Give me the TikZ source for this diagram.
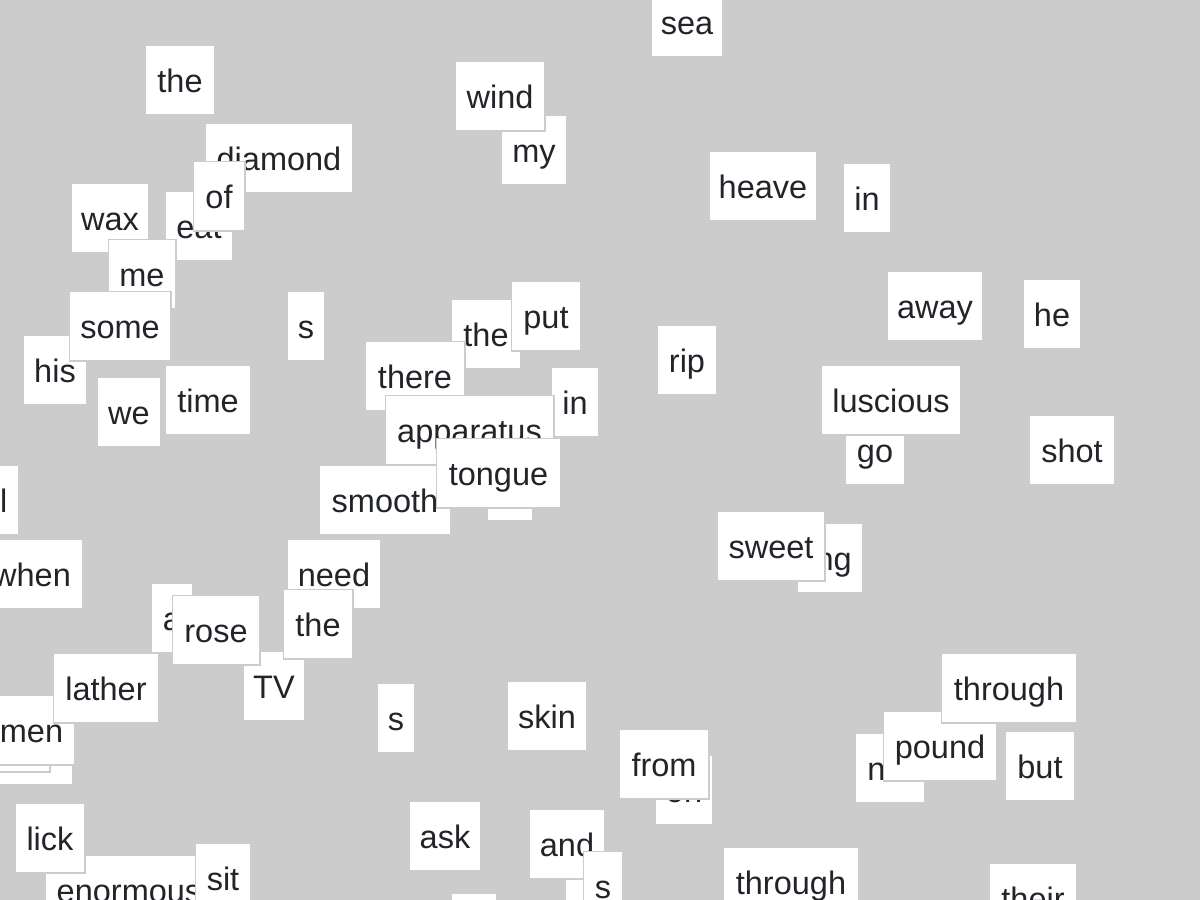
\documentclass[tikz,border=0pt]{standalone}
\usepackage{fontspec}
\setmainfont{Liberation Sans}
\definecolor{bg}{HTML}{CCCCCC}
\definecolor{ink}{HTML}{212529}
\tikzset{
  tile/.style={fill=white, draw=bg, line width=1.5pt, text=ink,
    inner xsep=0pt, inner ysep=0pt, outer sep=0pt,
    text height=46.75pt, text depth=22.75pt,
    anchor=north west, font=\fontsize{32.5}{39}\selectfont}
}
\newcommand\wtile[5]{\node[tile, minimum width=#4pt+1.5pt] (#1) at (#2-0.75,#3-0.75) {#5};}
\begin{document}
\begin{tikzpicture}[x=1pt,y=-1pt]
\useasboundingbox (0,0) rectangle (1200,900);
\clip (0,0) rectangle (1200,900);
\fill[bg] (0,0) rectangle (1200,900);
\wtile{sea}{652}{-12}{70}{sea}
\wtile{theA}{146}{46}{68}{the}
\wtile{my}{502}{116}{64}{my}
\wtile{wind}{456}{62}{88}{wind}
\wtile{diamond}{206}{124}{146}{diamond}
\wtile{wax}{72}{184}{76}{wax}
\wtile{eat}{166}{192}{66}{eat}
\wtile{of}{194}{162}{50}{of}
\wtile{me}{109}{240}{66}{me}
\wtile{his}{24}{336}{62}{his}
\wtile{some}{70}{292}{100}{some}
\wtile{we}{98}{378}{62}{we}
\wtile{time}{166}{366}{84}{time}
\wtile{sA}{288}{292}{36}{s}
\wtile{theB}{452}{300}{68}{the}
\wtile{put}{512}{282}{68}{put}
\wtile{there}{366}{342}{98}{there}
\wtile{hidA}{488}{452}{44}{}
\wtile{inA}{552}{368}{46}{in}
\wtile{apparatus}{386}{396}{167}{apparatus}
\wtile{smooth}{320}{466}{130}{smooth}
\wtile{tongue}{437}{439}{123}{tongue}
\wtile{ell}{-36}{466}{54}{\phantom{al}l}
\wtile{when}{-18}{540}{100}{when}
\wtile{need}{288}{540}{92}{need}
\wtile{TV}{244}{652}{60}{TV}
\wtile{theC}{284}{590}{68}{the}
\wtile{a}{152}{584}{40}{a}
\wtile{rose}{173}{596}{86}{rose}
\wtile{hidB}{-20}{716}{92}{}
\wtile{hidC}{-20}{703}{69}{}
\wtile{men}{-11}{696}{85}{men}
\wtile{lather}{54}{654}{104}{lather}
\wtile{enormous}{46}{856}{166}{enormous}
\wtile{lick}{16}{804}{68}{lick}
\wtile{sit}{196}{844}{54}{sit}
\wtile{sB}{378}{684}{36}{s}
\wtile{skin}{508}{682}{78}{skin}
\wtile{ask}{410}{802}{70}{ask}
\wtile{and}{530}{810}{74}{and}
\wtile{hidD}{452}{894}{44}{}
\wtile{hidE}{566}{880}{50}{}
\wtile{sC}{584}{852}{38}{s}
\wtile{on}{656}{756}{56}{on}
\wtile{from}{620}{730}{88}{from}
\wtile{throughA}{724}{848}{134}{through}
\wtile{their}{990}{864}{86}{their}
\wtile{heave}{710}{152}{106}{heave}
\wtile{inB}{844}{164}{46}{in}
\wtile{away}{888}{272}{94}{away}
\wtile{he}{1024}{280}{56}{he}
\wtile{rip}{658}{326}{58}{rip}
\wtile{go}{846}{416}{58}{go}
\wtile{luscious}{822}{366}{138}{luscious}
\wtile{shot}{1030}{416}{84}{shot}
\wtile{ing}{798}{524}{64}{\phantom{i}ng}
\wtile{sweet}{718}{512}{106}{sweet}
\wtile{nn}{856}{734}{68}{n\phantom{ot}}
\wtile{pound}{884}{712}{112}{pound}
\wtile{but}{1006}{732}{68}{but}
\wtile{throughB}{942}{654}{134}{through}
\end{tikzpicture}
\end{document}
